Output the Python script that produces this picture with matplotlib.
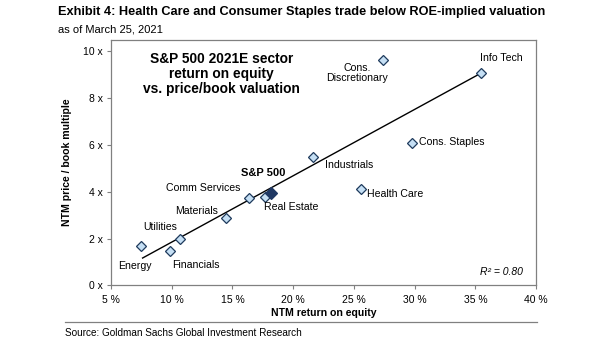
import matplotlib
matplotlib.use("Agg")
import matplotlib.pyplot as plt
from matplotlib.lines import Line2D

plt.rcParams["font.family"] = ["Liberation Sans", "DejaVu Sans"]

# sector data
sectors = ["Energy", "Financials", "Utilities", "Materials", "Comm Services", "Real Estate",
           "Industrials", "Health Care", "Cons. Staples", "Cons.\nDiscretionary", "Info Tech"]
roe = [7.47, 9.86, 10.68, 14.47, 16.37, 17.69, 21.6, 25.6, 29.77, 27.4, 35.45]
pb = [1.67, 1.48, 2.0, 2.87, 3.74, 3.79, 5.5, 4.1, 6.1, 9.62, 9.06]

spx_roe = 18.18
spx_pb = 3.96

# fitted line end points as drawn in the chart
trend_roe = [7.6, 35.45]
trend_pb = [1.17, 9.06]

x_ticks = [5, 10, 15, 20, 25, 30, 35, 40]
y_ticks = [0, 2, 4, 6, 8, 10]

# label offsets in points, and alignment
label_pos = {
    "Energy": (-4.3, -13.9, "center"),
    "Financials": (18.7, -9.9, "center"),
    "Utilities": (-14.4, 8.4, "center"),
    "Materials": (-21.1, 5.5, "center"),
    "Comm Services": (-33.3, 7.2, "center"),
    "Real Estate": (18.5, -7.2, "center"),
    "Industrials": (26.1, -6.3, "center"),
    "Health Care": (4.3, -3.4, "left"),
    "Cons. Staples": (5.5, 0.4, "left"),
    "Cons.\nDiscretionary": (-18.5, -9.4, "center"),
    "Info Tech": (15.1, 10.8, "center"),
}

fill = "#c5dff4"
edge = "#1e3a5c"
grey = "#808080"

fig = plt.figure(figsize=(6.05, 3.41), dpi=100)
ax = fig.add_axes([0.1835, 0.163, 0.7025, 0.721])

ax.plot(trend_roe, trend_pb, color="black", lw=1.0, zorder=2)
ax.plot(roe, pb, "D", ms=5, mfc=fill, mec=edge, mew=0.9, ls="none", zorder=3)
ax.plot([spx_roe], [spx_pb], "D", ms=6, mfc="#1f3864", mec="#1f3864", mew=0.9, zorder=4)

for name, x, y in zip(sectors, roe, pb):
    dx, dy, ha = label_pos[name]
    ax.annotate(name, (x, y), xytext=(dx, dy), textcoords="offset points",
                ha=ha, va="center", fontsize=7.6, linespacing=1.05)
ax.annotate("S&P 500", (spx_roe, spx_pb), xytext=(-5.5, 14.5), textcoords="offset points",
            ha="center", va="center", fontsize=8, fontweight="bold")

ax.text(0.97, 0.055, "R² = 0.80", transform=ax.transAxes, ha="right", va="center",
        fontsize=7.5, style="italic")
ax.text(0.26, 0.86, "S&P 500 2021E sector\nreturn on equity\nvs. price/book valuation",
        transform=ax.transAxes, ha="center", va="center", fontsize=9.9,
        fontweight="bold", linespacing=1.05)

ax.set_xlim(5, 40)
ax.set_ylim(0, 10.5)
ax.set_xticks(x_ticks)
ax.set_xticklabels([f"{t} %" for t in x_ticks])
ax.set_yticks(y_ticks)
ax.set_yticklabels([f"{t} x" for t in y_ticks])
ax.tick_params(labelsize=7.5, length=3, width=0.8, color=grey)
ax.tick_params(axis="x", pad=4)
ax.tick_params(axis="y", pad=3)
for s in ax.spines.values():
    s.set_color(grey)
    s.set_linewidth(0.9)

ax.set_xlabel("NTM return on equity", fontsize=7.6, fontweight="bold", labelpad=2)
ax.set_ylabel("NTM price / book multiple", fontsize=7.6, fontweight="bold", labelpad=8)

fig.text(58 / 605, 1 - 12 / 341, "Exhibit 4: Health Care and Consumer Staples trade below ROE-implied valuation",
         fontsize=9.2, fontweight="bold", va="center", ha="left")
fig.text(58 / 605, 1 - 29.5 / 341, "as of March 25, 2021", fontsize=8, va="center", ha="left")
fig.add_artist(Line2D([65 / 605, 537 / 605], [1 - 322 / 341] * 2, color=grey, lw=0.9))
fig.text(65 / 605, 1 - 332.5 / 341, "Source: Goldman Sachs Global Investment Research",
         fontsize=7.2, va="center", ha="left")

fig.savefig("out.png", dpi=100)
